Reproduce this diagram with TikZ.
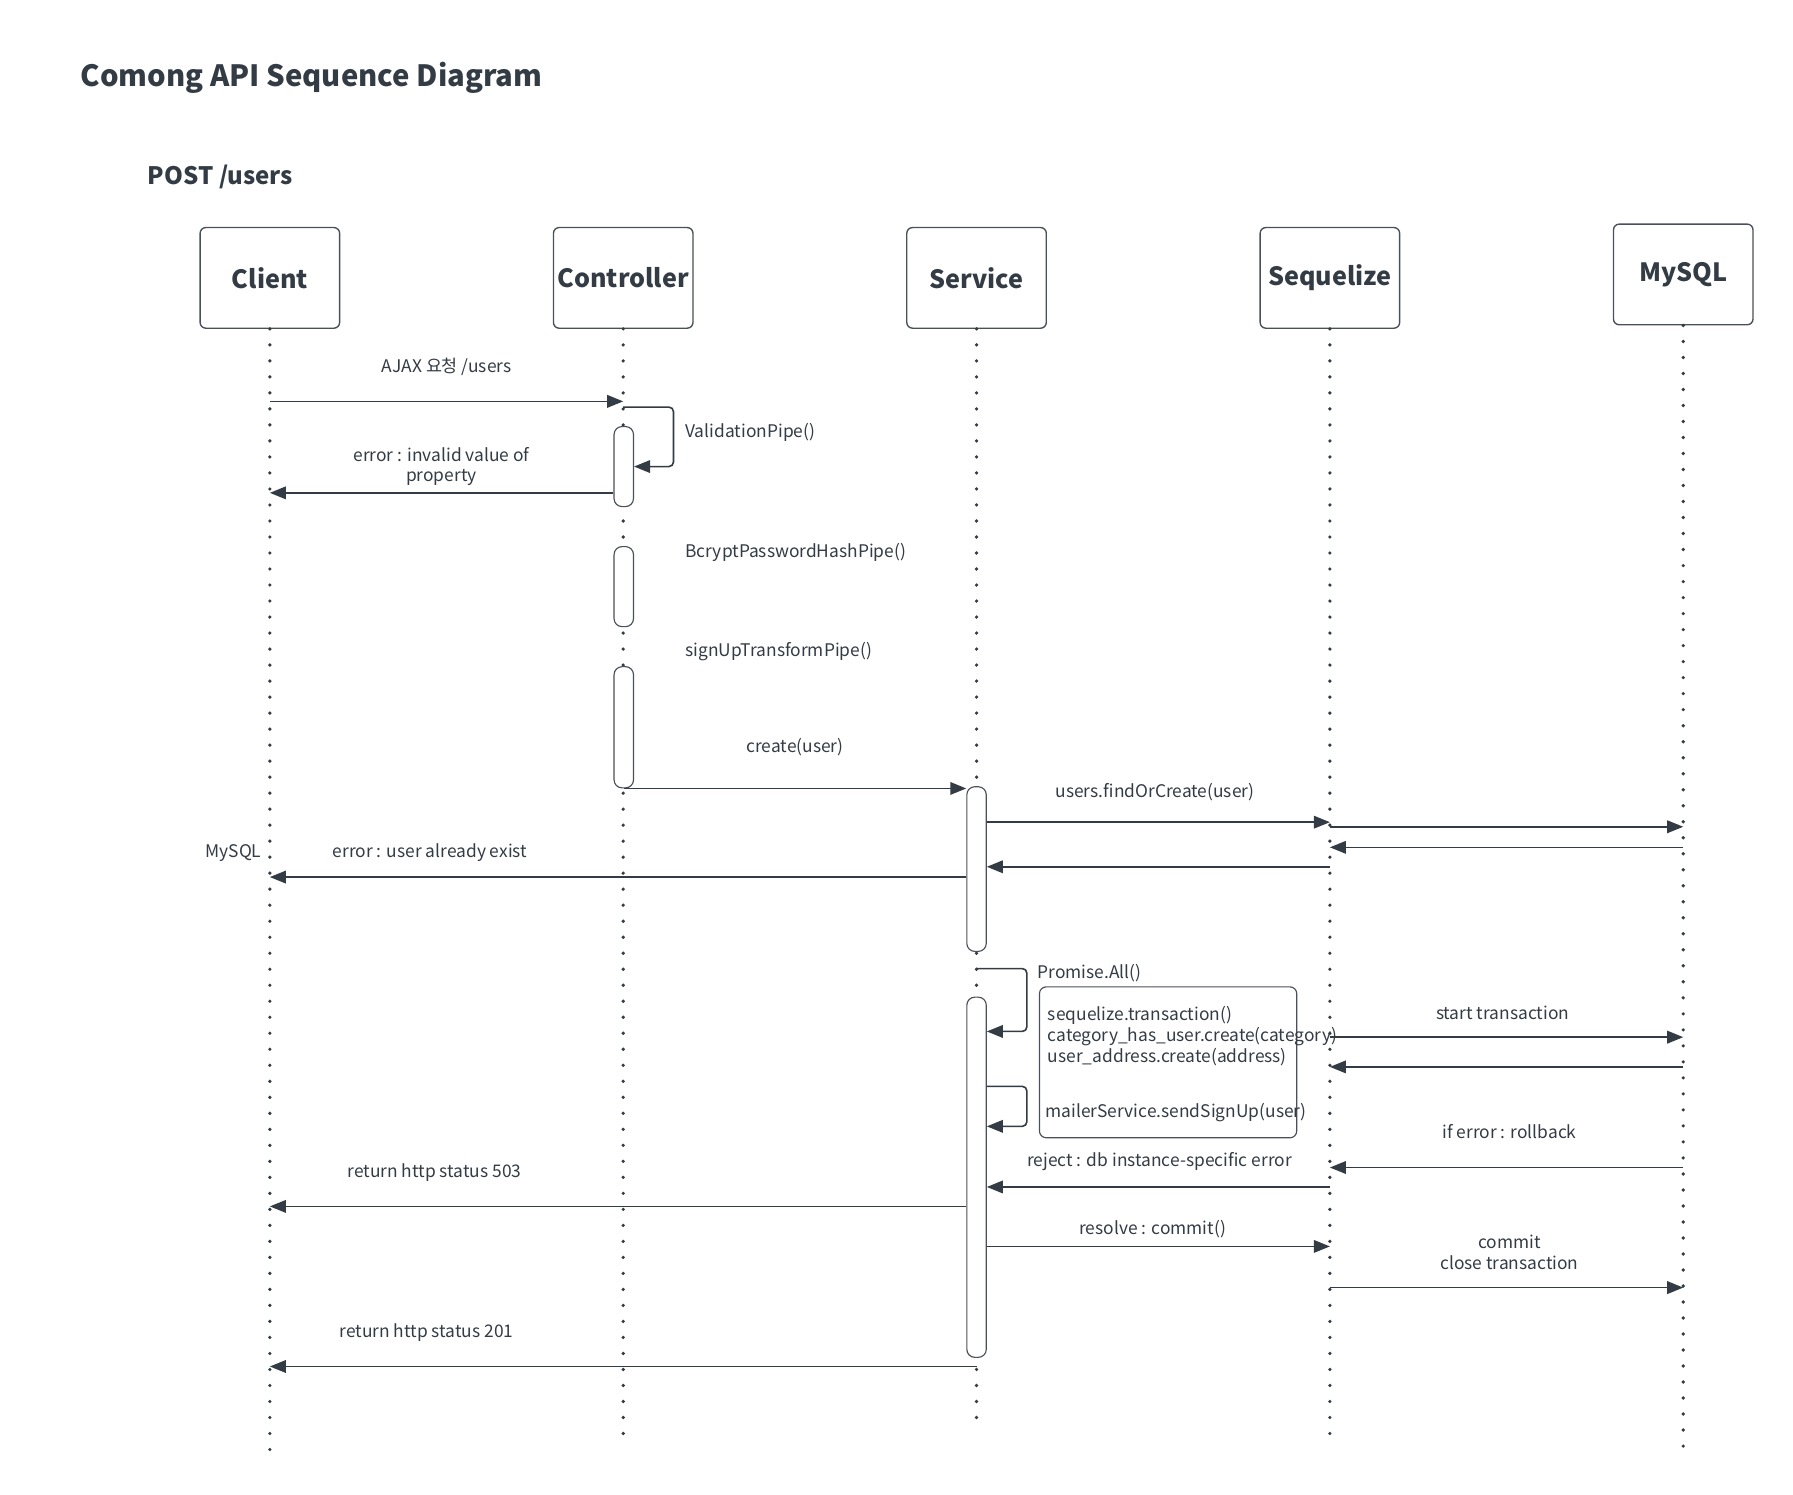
\documentclass[tikz,border=0pt]{standalone}
\usepackage{fontspec}
\setmainfont{Noto Sans CJK KR}
\usetikzlibrary{
  arrows.meta, % for the filled triangle tips
  positioning % for relative placement of the participants
}
\definecolor{ink}{HTML}{333B45}
\definecolor{edge}{HTML}{4A5059}
\tikzset{
  actor/.style={ % participant box at the top
    rectangle,draw=edge,line width=0.6pt,rounded corners=2.5pt,
    inner sep=0pt,
    minimum width=61pt,minimum height=44pt,
    font=\bfseries\fontsize{11}{13}\selectfont,text=ink,
    node distance=154.5pt, on grid, % centre to centre spacing
  },
  act/.style={ % activation bar on a lifeline
    rectangle,draw=edge,line width=0.5pt,fill=white,rounded corners=3.5pt,
    inner sep=0pt,minimum width=8.5pt,
  },
  grp/.style={ % the box around the parallel calls
    rectangle,draw=edge,line width=0.5pt,rounded corners=3pt,inner sep=0pt,
  },
  lifeline/.style={ % dotted line under each participant
    draw=ink,line width=1.6pt,line cap=round,dash pattern=on 0pt off 7pt,
  },
  msg/.style={ % message arrow
    draw=ink,line width=0.7pt,-{Triangle[length=7pt,width=5.5pt]},
  },
  lbl/.style={ % message text
    font=\fontsize{7.6}{9}\selectfont,text=ink,inner sep=0pt,align=center,
  },
}

\begin{document}
\begin{tikzpicture}[x=0.5pt,y=-0.5pt]
  \useasboundingbox (0,0) rectangle (1568,1307);
  \node[anchor=west,inner sep=0pt,font=\bfseries\fontsize{12.8}{15}\selectfont,text=ink] (title) at (70,68) {Comong API Sequence Diagram};
  \node[anchor=west,inner sep=0pt,font=\bfseries\fontsize{10.5}{12}\selectfont,text=ink] (post) at (129,155) {POST /users};

  % participants
  \node[actor] (client) at (236,243) {Client};
  \node[actor, right=of client] (controller) {Controller};
  \node[actor, right=of controller] (service) {Service};
  \node[actor, right=of service] (sequelize) {Sequelize};
  \node[actor, right=of sequelize, yshift=1.5pt] (mysql) {MySQL};

  % lifelines
  \foreach \p/\e in {client/1272,controller/1262,service/1242,sequelize/1260,mysql/1267}
    \draw[lifeline] (\p.south) -- (\p.south |- 0,\e);

  % activation bars
  \node[act, minimum height=35pt] (ca) at (545.5,408) {};
  \node[act, minimum height=35pt] (cb) at (545.5,513) {};
  \node[act, minimum height=53pt] (cc) at (545.5,636) {};
  \node[act, minimum height=72pt] (sa) at (854,760) {};
  \node[act, minimum height=157.5pt] (sb) at (854,1029.5) {};

  % controller pipes
  \draw[msg] (client |- 0,351) -- (controller |- 0,351) node[lbl, midway, above=11pt] {AJAX 요청 /users};
  \draw[msg, rounded corners=2pt] (controller |- 0,356) -- (589,356) |- (ca.east |- 0,408);
  \node[lbl, anchor=west] (vp) at (599,378) {ValidationPipe()};
  \draw[msg] (ca.west |- 0,431) -- (client |- 0,431);
  \node[lbl] (err1) at (386,408) {error : invalid value of\\property};
  \node[lbl, anchor=west] (bp) at (599,483) {BcryptPasswordHashPipe()};
  \node[lbl, anchor=west] (sp) at (599,570) {signUpTransformPipe()};

  % create user
  \draw[msg] (cc.south) -- (sa.north west |- cc.south) node[lbl, midway, above=14pt] {create(user)};
  \draw[msg] (sa.east |- 0,719) -- (sequelize |- 0,719);
  \node[lbl] (foc) at (1010,693) {users.findOrCreate(user)};
  \draw[msg] (sequelize |- 0,723) -- (mysql |- 0,723);
  \draw[msg] (mysql |- 0,741) -- (sequelize |- 0,741);
  \draw[msg] (sequelize |- 0,758) -- (sa.east |- 0,758);
  \draw[msg] (sa.west |- 0,767) -- (client |- 0,767);
  \node[lbl] (err2) at (376,746) {error : user already exist};
  \node[lbl, anchor=east] (db) at (229,746) {MySQL};

  % transaction
  \draw[msg, rounded corners=2pt] (service |- 0,847) -- (898,847) |- (sb.east |- 0,902);
  \node[lbl, anchor=west] (pa) at (907,851) {Promise.All()};
  \node[grp, minimum width=112.5pt, minimum height=66pt] (calls) at (1021.5,929) {};
  \node[lbl, anchor=west, align=left] (tx) at (916,906) {sequelize.transaction()\\category\_has\_user.create(category)\\user\_address.create(address)};
  \draw[msg, rounded corners=2pt] (sb.east |- 0,950) -- (898,950) |- (sb.east |- 0,985);
  \node[lbl, anchor=west] (mail) at (914,973) {mailerService.sendSignUp(user)};
  \draw[msg] (sequelize |- 0,907) -- (mysql |- 0,907);
  \node[lbl] (st) at (1314,886) {start transaction};
  \draw[msg] (mysql |- 0,933) -- (sequelize |- 0,933);
  \draw[msg] (mysql |- 0,1021) -- (sequelize |- 0,1021);
  \node[lbl] (rb) at (1320,990) {if error : rollback};
  \draw[msg] (sequelize |- 0,1038) -- (sb.east |- 0,1038);
  \node[lbl] (rj) at (1014,1016) {reject : db instance-specific error};
  \draw[msg] (sb.west |- 0,1055) -- (client |- 0,1055);
  \node[lbl] (r503) at (380,1025) {return http status 503};
  \draw[msg] (sb.east |- 0,1090) -- (sequelize |- 0,1090);
  \node[lbl] (rs) at (1008,1075) {resolve : commit()};
  \draw[msg] (sequelize |- 0,1126) -- (mysql |- 0,1126);
  \node[lbl] (cm) at (1320,1095) {commit\\close transaction};
  \draw[msg] (sb.south |- 0,1195) -- (client |- 0,1195);
  \node[lbl] (r201) at (373,1165) {return http status 201};
\end{tikzpicture}
\end{document}
